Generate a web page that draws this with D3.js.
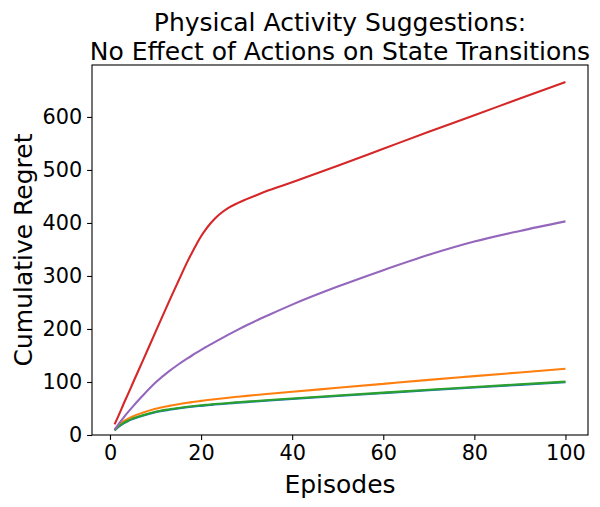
<!DOCTYPE html>
<html>
<head>
<meta charset="utf-8">
<script src="https://cdn.jsdelivr.net/npm/d3@7"></script>
<style>
    body { margin: 0; background: #fff; }
    svg { display: block; font-family: "DejaVu Sans", sans-serif; }
</style>
</head>
<body>
<svg id="chart" width="600" height="507"></svg>
<script>
const episodes = [1, 2, 3, 4, 5, 7, 10, 13, 15, 17, 18, 19, 20, 21, 22, 23, 24, 26, 28, 30, 32, 35, 40, 50, 60, 70, 80, 90, 100];

const blueRegret   = [8.5, 16, 22, 26.5, 30, 36, 43, 47.5, 50, 52.3, 53.3, 54.2, 55, 55.8, 56.6, 57.4, 58.1, 59.5, 60.8, 62, 63.2, 65, 68, 73.6, 79, 84.3, 89.5, 94.6, 99.6];
const orangeRegret = [10, 19, 26, 31, 35, 41.5, 49.5, 55, 58, 60.8, 62, 63.2, 64.3, 65.4, 66.4, 67.4, 68.4, 70.3, 72.1, 73.8, 75.4, 77.8, 81.5, 89, 96.5, 104, 111, 118, 125];
const greenRegret  = [9, 17, 23, 27.5, 31, 37, 44, 48.5, 51, 53.3, 54.3, 55.2, 56, 56.8, 57.6, 58.4, 59.1, 60.5, 61.8, 63, 64.2, 66, 69, 74.6, 80, 85.3, 90.5, 95.6, 100.6];
const redRegret    = [20, 39, 59, 78, 97.6, 136, 194.5, 252.6, 290, 327, 344, 360, 375, 387.5, 398.5, 408, 416, 428.5, 437.5, 445, 452, 462, 477, 508, 540, 572, 603, 635, 666];
const purpleRegret = [10, 22, 33, 43.5, 53.5, 72.5, 99, 120.5, 133, 144.5, 150, 155.3, 160.5, 165.5, 170.5, 175.3, 180, 189.3, 198.3, 207, 215.3, 227, 246, 280, 311, 340, 365, 385, 403];

const seriesColors = ["#1f77b4", "#ff7f0e", "#2ca02c", "#d62728", "#9467bd"];
const seriesValues = [blueRegret, orangeRegret, greenRegret, redRegret, purpleRegret];

const xTicks = [0, 20, 40, 60, 80, 100];
const yTicks = [0, 100, 200, 300, 400, 500, 600];

const svg = d3.select("#chart");
const margin = { top: 65, right: 12, bottom: 72, left: 92 };
const width = 600 - margin.left - margin.right;
const height = 507 - margin.top - margin.bottom;

const x = d3.scaleLinear().domain([-3.95, 104.95]).range([0, width]);
const y = d3.scaleLinear().domain([0, 698]).range([height, 0]);

const g = svg.append("g").attr("transform", `translate(${margin.left},${margin.top})`);

const line = d3
    .line()
    .x((d) => x(d[0]))
    .y((d) => y(d[1]))
    .curve(d3.curveMonotoneX);

seriesValues.forEach((vals, i) => {
    g.append("path")
        .datum(episodes.map((e, j) => [e, vals[j]]))
        .attr("fill", "none")
        .attr("stroke", seriesColors[i])
        .attr("stroke-width", 2.1)
        .attr("stroke-linejoin", "round")
        .attr("d", line);
});

// axes
const xAxis = g
    .append("g")
    .attr("transform", `translate(0,${height})`)
    .call(d3.axisBottom(x).tickValues(xTicks).tickSize(4.9).tickPadding(4.9));
const yAxis = g.append("g").call(d3.axisLeft(y).tickValues(yTicks).tickSize(4.9).tickPadding(4.9));

[xAxis, yAxis].forEach((ax) => {
    ax.select(".domain").remove();
    ax.selectAll(".tick line").attr("stroke", "#000").attr("stroke-width", 1.1);
    ax.selectAll(".tick text")
        .attr("fill", "#000")
        .style("font-size", "20.8px")
        .style("font-family", "DejaVu Sans");
});

// frame
g.append("rect")
    .attr("width", width)
    .attr("height", height)
    .attr("fill", "none")
    .attr("stroke", "#000")
    .attr("stroke-width", 1.1);

// labels
svg.append("text")
    .attr("x", margin.left + width / 2)
    .attr("y", 493)
    .attr("text-anchor", "middle")
    .style("font-size", "25px")
    .text("Episodes");

svg.append("text")
    .attr("transform", `translate(32,${margin.top + height / 2}) rotate(-90)`)
    .attr("text-anchor", "middle")
    .style("font-size", "25px")
    .text("Cumulative Regret");

const title = svg
    .append("text")
    .attr("x", margin.left + width / 2)
    .attr("text-anchor", "middle")
    .style("font-size", "25px");
title.append("tspan").attr("x", margin.left + width / 2).attr("y", 31).text("Physical Activity Suggestions:");
title.append("tspan").attr("x", margin.left + width / 2).attr("y", 60).text("No Effect of Actions on State Transitions");
</script>
</body>
</html>
